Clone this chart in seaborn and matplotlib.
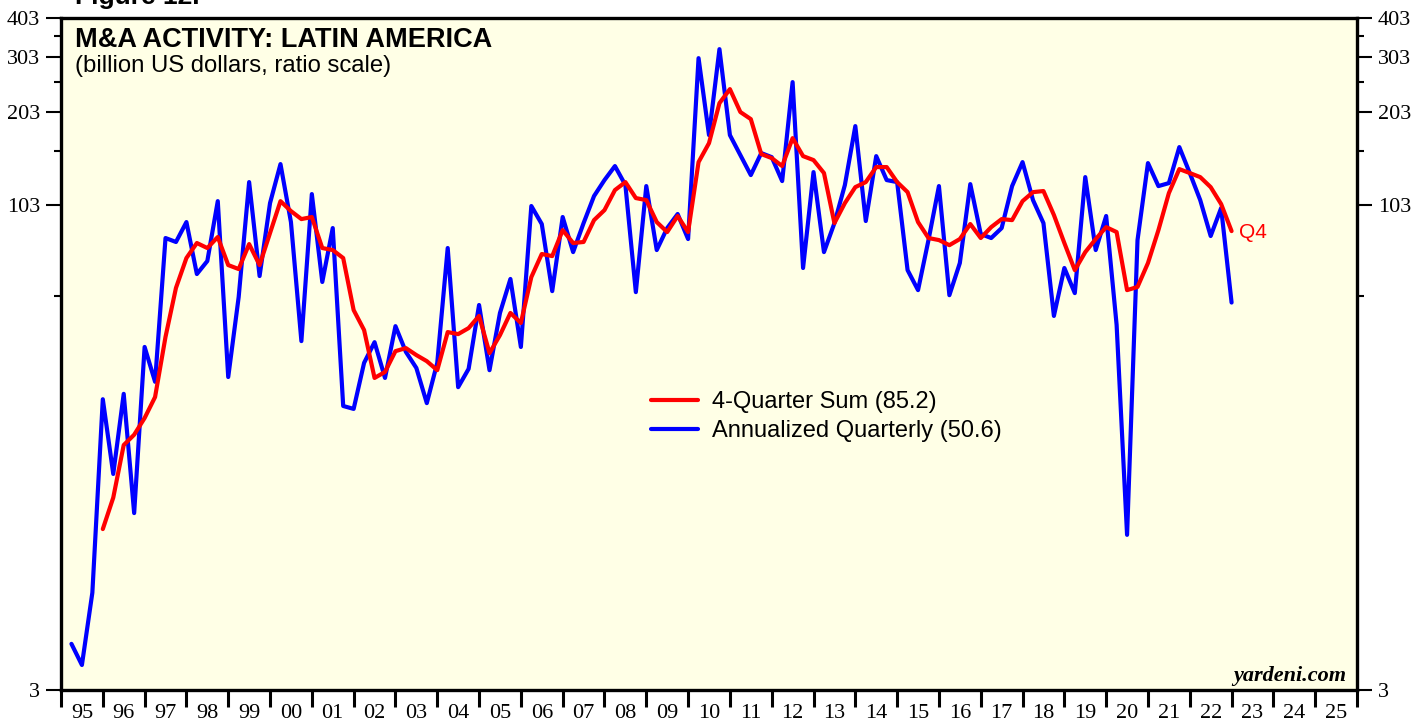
import numpy as np
import pandas as pd
import matplotlib
matplotlib.use("Agg")
import matplotlib.pyplot as plt
import matplotlib.ticker as mticker
import seaborn as sns

# -------------------------------
# Data (billion US$, quarterly, 1995Q1 - 2022Q4)
# -------------------------------
start_year = 1995

annualized_quarterly = [
    4.2, 3.6, 6.1, 25.0,        # 1995
    14.5, 26.0, 10.9, 36.6,     # 1996
    28.4, 81.0, 78.7, 91.0,     # 1997
    62.3, 68.5, 106.0, 29.4,    # 1998
    52.7, 121.8, 61.4, 104.5,   # 1999
    138.9, 91.0, 38.2, 111.6,   # 2000
    58.8, 87.1, 23.8, 23.3,     # 2001
    32.6, 37.9, 29.2, 42.6,     # 2002
    35.3, 31.4, 24.3, 32.6,     # 2003
    75.3, 27.3, 31.2, 49.7,     # 2004
    30.9, 46.9, 60.1, 36.6,     # 2005
    102.3, 89.7, 55.0, 94.4,    # 2006
    73.1, 90.3, 110.0, 123.6,   # 2007
    136.9, 119.2, 54.6, 118.3,  # 2008
    74.2, 87.1, 96.5, 80.4,     # 2009
    300.7, 171.6, 321.1, 171.6, # 2010
    148.3, 128.2, 150.5, 146.1, # 2011
    122.7, 252.5, 65.1, 131.0,  # 2012
    73.1, 90.3, 119.2, 183.2,   # 2013
    91.7, 147.2, 123.6, 121.8,  # 2014
    64.1, 55.4, 79.8, 118.3,    # 2015
    53.4, 67.5, 120.0, 83.4,    # 2016
    81.0, 87.1, 118.3, 140.9,   # 2017
    106.8, 90.3, 45.9, 65.1,    # 2018
    54.2, 126.3, 74.2, 95.1,    # 2019
    43.0, 9.3, 79.8, 139.9,     # 2020
    118.3, 120.9, 157.2, 130.1, # 2021
    106.8, 82.2, 100.8, 50.6,   # 2022
]

# 4-quarter sum starts at 1995Q4
four_quarter_sum = [
    9.7,                        # 1995Q4
    12.2, 17.9, 19.3, 21.8,     # 1996
    25.4, 39.4, 56.3, 70.0,     # 1997
    78.1, 75.3, 81.6, 66.5,     # 1998
    64.6, 77.5, 66.5, 84.0,     # 1999
    106.0, 98.6, 93.0, 94.4,    # 2000
    75.3, 74.2, 70.0, 47.9,     # 2001
    41.4, 29.2, 30.5, 35.5,     # 2002
    36.3, 34.5, 33.0, 30.9,     # 2003
    40.8, 40.2, 42.0, 45.9,     # 2004
    35.0, 39.9, 46.9, 43.6,     # 2005
    60.9, 72.1, 71.0, 85.8,     # 2006
    78.1, 78.7, 92.3, 99.3,     # 2007
    114.9, 121.8, 108.4, 106.8, # 2008
    91.0, 84.6, 95.1, 84.6,     # 2009
    140.9, 161.8, 216.6, 239.9, # 2010
    203.0, 192.8, 149.4, 145.1, # 2011
    136.9, 167.8, 147.2, 143.0, # 2012
    130.1, 90.3, 104.5, 117.4,  # 2013
    121.8, 135.9, 135.9, 121.8, # 2014
    113.2, 91.0, 81.0, 79.8,    # 2015
    76.9, 80.4, 89.7, 81.0,     # 2016
    87.7, 93.0, 92.3, 106.0,    # 2017
    113.2, 114.1, 95.8, 78.1,   # 2018
    64.1, 73.1, 80.4, 87.7,     # 2019
    84.6, 55.4, 56.7, 67.5,     # 2020
    85.8, 112.4, 133.9, 130.1,  # 2021
    126.3, 117.4, 103.8, 85.2,  # 2022
]

year_labels = ["95", "96", "97", "98", "99", "00", "01", "02", "03", "04",
               "05", "06", "07", "08", "09", "10", "11", "12", "13", "14",
               "15", "16", "17", "18", "19", "20", "21", "22", "23", "24", "25"]
y_major = [3, 103, 203, 303, 403]
y_minor = [53, 153, 253, 353]

# quarter-end positions on a fractional-year axis
n_q = len(annualized_quarterly)
qx = start_year + np.arange(1, n_q + 1) / 4
blue_df = pd.DataFrame({"x": qx, "v": annualized_quarterly})
red_df = pd.DataFrame({"x": qx[n_q - len(four_quarter_sum):], "v": four_quarter_sum})

# -------------------------------
# Plot
# -------------------------------
sns.set_style("ticks")
plt.rcParams["font.family"] = ["Liberation Sans", "DejaVu Sans"]
plt.rcParams["text.color"] = "black"
plt.rcParams["axes.labelcolor"] = "black"
plt.rcParams["xtick.color"] = "black"
plt.rcParams["ytick.color"] = "black"

fig = plt.figure(figsize=(14.27, 7.21), dpi=100)
ax = fig.add_axes([61 / 1427, 1 - 690 / 721, 1296 / 1427, 672 / 721])
ax.set_facecolor("#FFFFE6")

sns.lineplot(data=red_df, x="x", y="v", ax=ax, color="#FF0000", lw=3.0,
             label=f"4-Quarter Sum ({four_quarter_sum[-1]})")
sns.lineplot(data=blue_df, x="x", y="v", ax=ax, color="#0000FF", lw=3.0,
             label=f"Annualized Quarterly ({annualized_quarterly[-1]})")
# keep red on top
ax.lines[0].set_zorder(3)

ax.set_yscale("log")
ax.set_ylim(3, 403)
ax.set_xlim(start_year, start_year + len(year_labels))
ax.set_xlabel("")
ax.set_ylabel("")

# x axis: tick marks at year boundaries, labels centred in each year
years = start_year + np.arange(len(year_labels) + 1)
ax.xaxis.set_major_locator(mticker.FixedLocator(years))
ax.xaxis.set_major_formatter(mticker.NullFormatter())
ax.xaxis.set_minor_locator(mticker.FixedLocator(years[:-1] + 0.5))
ax.xaxis.set_minor_formatter(mticker.FixedFormatter(year_labels))
ax.tick_params(axis="x", which="major", direction="out", length=12, width=2.2)
ax.tick_params(axis="x", which="minor", length=0, pad=10, labelsize=16)

# y axis on both sides
ax.yaxis.set_major_locator(mticker.FixedLocator(y_major))
ax.yaxis.set_major_formatter(mticker.FixedFormatter([str(v) for v in y_major]))
ax.yaxis.set_minor_locator(mticker.FixedLocator(y_minor))
ax.yaxis.set_minor_formatter(mticker.NullFormatter())
ax.tick_params(axis="y", which="major", direction="out", length=11, width=1.5,
               labelsize=16, pad=4, left=True, right=True, labelleft=True, labelright=True)
ax.tick_params(axis="y", which="minor", direction="out", length=5, width=1.5,
               left=True, right=True)

for lab in ax.get_xticklabels(minor=True) + ax.get_yticklabels():
    lab.set_family(["Liberation Serif", "DejaVu Serif"])
    lab.set_color("black")

for sp in ax.spines.values():
    sp.set_visible(True)
    sp.set_linewidth(2.4)
    sp.set_color("black")

# legend
leg = ax.legend(loc="center left", bbox_to_anchor=(0.455, 0.407), frameon=False,
                fontsize=17, handlelength=2.0, handletextpad=0.6, labelspacing=0.3,
                borderpad=0, borderaxespad=0)
for t in leg.get_texts():
    t.set_color("black")

# "Q4" tag next to last red point
ax.annotate("Q4", xy=(red_df["x"].iloc[-1], four_quarter_sum[-1]),
            xytext=(5, -1), textcoords="offset points", color="#FF0000",
            fontsize=15, ha="left", va="center")

# titles and source
fig.text(75 / 1427, 1 - 4 / 721, "Figure 12.", fontsize=19, fontweight="bold",
         ha="left", va="baseline", color="black")
fig.text(75 / 1427, 1 - 47 / 721, "M&A ACTIVITY: LATIN AMERICA", fontsize=19.5,
         fontweight="bold", ha="left", va="baseline", color="black")
fig.text(75 / 1427, 1 - 72 / 721, "(billion US dollars, ratio scale)", fontsize=17.2,
         ha="left", va="baseline", color="black")
fig.text(1346 / 1427, 1 - 681 / 721, "yardeni.com", fontsize=16, fontweight="bold",
         fontstyle="italic", family=["Liberation Serif", "DejaVu Serif"],
         ha="right", va="baseline", color="black")

fig.savefig("out.png", dpi=100, facecolor="white")
